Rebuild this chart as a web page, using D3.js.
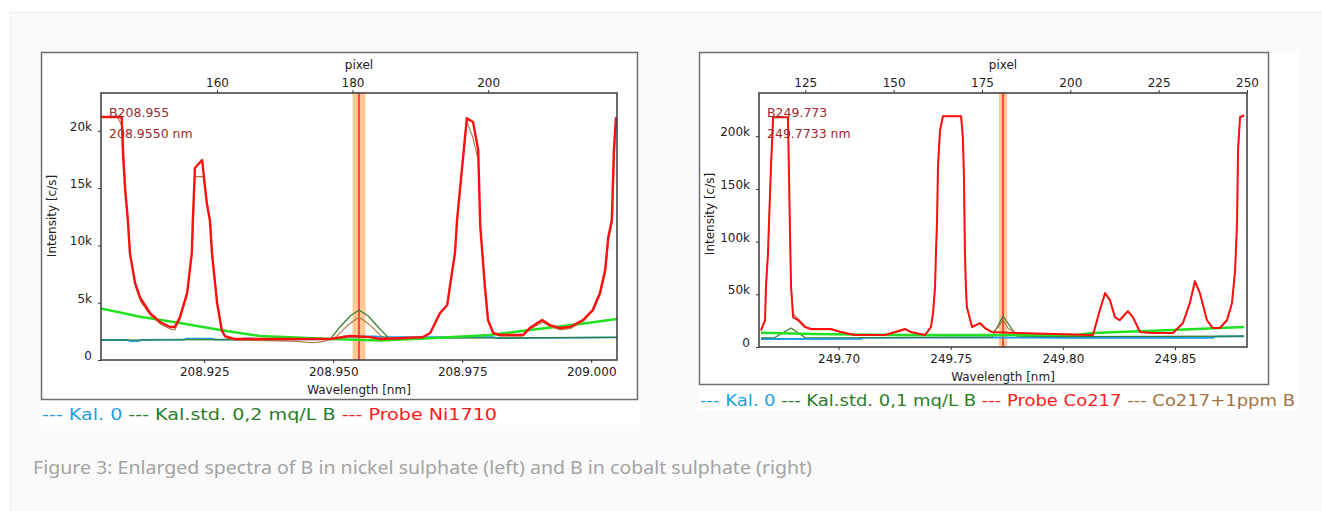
<html>
<head>
<meta charset="utf-8">
<style>
  body { margin: 0; background: #fff; }
  .tick text { font: 12px "DejaVu Sans", sans-serif; fill: #222; }
  .lbl { font: 12px "DejaVu Sans", sans-serif; fill: #222; }
  .note { font: 12.5px "DejaVu Sans", sans-serif; fill: #9e2a2b; }
  .legend { font: 16px "DejaVu Sans", sans-serif; }
</style>
</head>
<body>
<script src="https://cdn.jsdelivr.net/npm/d3@7"></script>
<script>
// ---- left chart: B in nickel sulphate ----
var niProbe = [[208.9050,21200],[208.9090,21200],[208.9093,17700],[208.9097,14800],[208.9102,12200],[208.9106,9340],[208.9116,6720],[208.9126,5410],[208.9145,4100],[208.9164,3320],[208.9184,2880],[208.9193,2880],[208.9203,3750],[208.9217,5850],[208.9226,9340],[208.9228,12200],[208.9232,16760],[208.9246,17450],[208.9255,13700],[208.9261,12200],[208.9265,9340],[208.9275,4970],[208.9284,2620],[208.9290,2090],[208.9310,1830],[208.9494,1830],[208.9533,2090],[208.9571,2000],[208.9591,1830],[208.9674,2000],[208.9688,2360],[208.9707,4100],[208.9721,4800],[208.9726,6370],[208.9736,9340],[208.9740,12200],[208.9759,21100],[208.9771,20770],[208.9781,18330],[208.9785,11700],[208.9794,6370],[208.9800,3490],[208.9810,2360],[208.9823,2180],[208.9868,2180],[208.9881,2790],[208.9905,3490],[208.9920,3050],[208.9940,2790],[208.9959,2880],[208.9984,3490],[209.0003,4360],[209.0017,5850],[209.0027,7850],[209.0033,10700],[209.0040,12200],[209.0044,18300],[209.0048,21200]];
var niSpike = [[208.9050,21200],[208.9082,21200],[208.9092,20300],[208.9095,17000],[208.9098,14500],[208.9103,12000],[208.9107,9100],[208.9117,6400],[208.9127,5100],[208.9146,3900],[208.9165,3150],[208.9184,2700],[208.9193,2620],[208.9203,3500],[208.9217,5700],[208.9226,9200],[208.9229,12000],[208.9232,16000],[208.9248,16000],[208.9256,13500],[208.9262,12000],[208.9266,9200],[208.9276,4800],[208.9285,2500],[208.9292,1950],[208.9310,1750],[208.9420,1650],[208.9460,1500],[208.9480,1600],[208.9505,2000],[208.9530,3100],[208.9550,3750],[208.9570,3100],[208.9595,2000],[208.9620,1800],[208.9674,1950],[208.9688,2300],[208.9707,4000],[208.9721,4800],[208.9726,6300],[208.9736,9200],[208.9740,12000],[208.9759,20800],[208.9770,19500],[208.9781,17500],[208.9785,11500],[208.9795,6200],[208.9801,3400],[208.9811,2300],[208.9823,2100],[208.9868,2100],[208.9882,2700],[208.9906,3300],[208.9921,2900],[208.9940,2650],[208.9960,2750],[208.9985,3400],[209.0004,4300],[209.0018,5800],[209.0028,7800],[209.0034,10600],[209.0041,12100],[209.0045,18000],[209.0048,21000]];
var niStd = [[208.9050,1745],[208.9494,1800],[208.9513,2880],[208.9533,3840],[208.9550,4360],[208.9568,3840],[208.9587,2880],[208.9608,1880],[208.9700,1900],[209.0050,1980]];
var niBlank = [[208.9050,1745],[208.9100,1745],[208.9108,1650],[208.9122,1650],[208.9130,1760],[208.9210,1770],[208.9215,1860],[208.9265,1860],[208.9270,1780],[208.9320,1790],[208.9325,1880],[208.9345,1880],[208.9350,1790],[208.9505,1830],[208.9520,2050],[208.9580,2050],[208.9600,1990],[208.9810,1990],[208.9820,1910],[209.0050,1980]];
var niBackground = [[208.9050,4500],[208.9126,3780],[208.9203,3230],[208.9281,2620],[208.9358,2090],[208.9416,1980],[208.9494,1830],[208.9591,1700],[208.9688,1900],[208.9804,2180],[208.9881,2620],[208.9978,3140],[209.0050,3580]];
var niXTicks = [208.925, 208.950, 208.975, 209.000];
var niPixelTicks = [160, 180, 200];
var niYTicks = [0, 5000, 10000, 15000, 20000];
var niLegend = [["--- Kal. 0 ", "#1ba1e2"], ["--- Kal.std. 0,2 mq/L B ", "#2a7d2a"], ["--- Probe Ni1710", "#ff1a1a"]];

// ---- right chart: B in cobalt sulphate ----
var coProbe = [[249.6654,16100],[249.6672,25600],[249.6676,56900],[249.6685,89100],[249.6690,120400],[249.6699,174400],[249.6708,218000],[249.6774,218000],[249.6779,161100],[249.6783,110900],[249.6788,56900],[249.6797,28400],[249.6819,25600],[249.6850,19000],[249.6877,17100],[249.6966,17100],[249.7011,14200],[249.7073,11400],[249.7207,11400],[249.7251,14200],[249.7296,17100],[249.7323,14200],[249.7385,11400],[249.7412,19000],[249.7421,32200],[249.7430,56900],[249.7434,89100],[249.7439,120400],[249.7443,170600],[249.7452,205600],[249.7465,219000],[249.7546,219000],[249.7554,199000],[249.7559,161100],[249.7563,92000],[249.7568,54000],[249.7572,37900],[249.7595,19000],[249.7630,22700],[249.7653,18000],[249.7684,14200],[249.7795,13300],[249.8134,11400],[249.8165,35100],[249.8188,51200],[249.8210,44500],[249.8232,28400],[249.8254,25600],[249.8290,34100],[249.8312,28400],[249.8344,14200],[249.8402,13300],[249.8491,13300],[249.8535,22700],[249.8566,41700],[249.8589,62500],[249.8611,51200],[249.8642,25600],[249.8669,18000],[249.8700,18000],[249.8732,25600],[249.8754,41700],[249.8768,73000],[249.8777,120400],[249.8781,186700],[249.8790,218000],[249.8808,219900]];
var coSpike = [[249.6654,15000],[249.6672,24500],[249.6676,55000],[249.6685,88000],[249.6690,119000],[249.6699,173000],[249.6708,218000],[249.6774,218000],[249.6779,160000],[249.6783,110000],[249.6788,58000],[249.6797,32000],[249.6819,27000],[249.6850,20000],[249.6877,16500],[249.6966,16500],[249.7011,13800],[249.7073,11000],[249.7207,11000],[249.7251,13500],[249.7296,16500],[249.7323,13800],[249.7385,11000],[249.7412,18500],[249.7421,31500],[249.7430,56000],[249.7434,88500],[249.7439,119500],[249.7443,170000],[249.7452,205000],[249.7465,219000],[249.7546,219000],[249.7554,198000],[249.7559,160000],[249.7563,91000],[249.7568,53000],[249.7572,37000],[249.7595,18500],[249.7630,22000],[249.7653,17500],[249.7684,14000],[249.7710,18000],[249.7733,26000],[249.7756,17500],[249.7795,13000],[249.8134,11000],[249.8165,34500],[249.8188,50500],[249.8210,44000],[249.8232,28000],[249.8254,25000],[249.8290,33500],[249.8312,28000],[249.8344,13800],[249.8402,13000],[249.8491,13000],[249.8535,22000],[249.8566,41000],[249.8589,61500],[249.8611,50500],[249.8642,25000],[249.8669,17500],[249.8700,17500],[249.8732,25000],[249.8754,41000],[249.8768,72500],[249.8777,120000],[249.8781,186000],[249.8790,218000],[249.8808,219900]];
var coStd = [[249.6654,8600],[249.6716,9000],[249.6788,18000],[249.6850,9000],[249.7000,8800],[249.7684,9400],[249.7733,29400],[249.7795,10200],[249.8000,9800],[249.8808,10400]];
var coBlank = [[249.6654,7600],[249.7100,7700],[249.7110,8600],[249.7400,8900],[249.7700,9000],[249.8000,8600],[249.8670,8800],[249.8680,9900],[249.8808,10200]];
var coBackground = [[249.6654,13500],[249.6890,12300],[249.7260,11400],[249.8060,11400],[249.8130,13300],[249.8490,16100],[249.8808,19000]];
var coXTicks = [249.70, 249.75, 249.80, 249.85];
var coPixelTicks = [125, 150, 175, 200, 225, 250];
var coYTicks = [0, 50000, 100000, 150000, 200000];
var coLegend = [["--- Kal. 0 ", "#1ba1e2"], ["--- Kal.std. 0,1 mq/L B ", "#2a7d2a"], ["--- Probe Co217 ", "#ff1a1a"], ["--- Co217+1ppm B", "#a4713f"]];

var caption = "Figure 3: Enlarged spectra of B in nickel sulphate (left) and B in cobalt sulphate (right)";

var svg = d3.select("body").append("svg").attr("width", 1322).attr("height", 511);

// page panel
svg.append("rect").attr("x", 10.5).attr("y", 12.5).attr("width", 1320).attr("height", 505)
   .attr("fill", "#fafafa").attr("stroke", "#efefef");

function drawChart(c) {
  var g = svg.append("g");
  g.append("rect").attr("x", c.bg[0]).attr("y", c.bg[1]).attr("width", c.bg[2]).attr("height", c.bg[3]).attr("fill", "#fff");
  g.append("rect").attr("x", c.frame[0] + 0.5).attr("y", c.frame[1] + 0.5).attr("width", c.frame[2]).attr("height", c.frame[3])
   .attr("fill", "none").attr("stroke", "#6e6e6e").attr("stroke-width", 1.5);

  var x = d3.scaleLinear().domain(c.xDomain).range([c.plot.l, c.plot.r]);
  var px = d3.scaleLinear().domain(c.pxDomain).range([c.plot.l, c.plot.r]);
  var y = d3.scaleLinear().domain(c.yDomain).range([c.plot.b, c.plot.t]);

  var id = "clip" + c.name;
  g.append("clipPath").attr("id", id).append("rect")
   .attr("x", c.plot.l).attr("y", c.plot.t).attr("width", c.plot.r - c.plot.l).attr("height", c.plot.b - c.plot.t);

  var plot = g.append("g").attr("clip-path", "url(#" + id + ")");
  // measuring window
  plot.append("rect").attr("x", x(c.line - c.half)).attr("y", c.plot.t)
      .attr("width", x(c.line + c.half) - x(c.line - c.half)).attr("height", c.plot.b - c.plot.t)
      .attr("fill", "#ffc896");
  plot.append("line").attr("x1", x(c.line)).attr("x2", x(c.line)).attr("y1", c.plot.t).attr("y2", c.plot.b)
      .attr("stroke", "#ff2a2a").attr("stroke-width", 1.6);

  var line = d3.line().x(d => x(d[0])).y(d => y(d[1]));
  c.series.forEach(function (s) {
    plot.append("path").datum(s.data).attr("d", line)
        .attr("fill", "none").attr("stroke", s.color).attr("stroke-width", s.w)
        .attr("stroke-linejoin", "round");
  });

  var fmtY = v => v === 0 ? "0" : (v / 1000) + "k";
  var ax = g.append("g").attr("transform", "translate(0," + c.plot.b + ")")
            .call(d3.axisBottom(x).tickValues(c.xTicks).tickFormat(d3.format(c.xFmt)).tickSize(3).tickPadding(4));
  var at = g.append("g").attr("transform", "translate(0," + c.plot.t + ")")
            .call(d3.axisTop(px).tickValues(c.pxTicks).tickSize(3).tickPadding(3));
  var ay = g.append("g").attr("transform", "translate(" + c.plot.l + ",0)")
            .call(d3.axisLeft(y).tickValues(c.yTicks).tickFormat(fmtY).tickSize(3).tickPadding(6));
  [ax, at, ay].forEach(a => { a.select(".domain").remove(); a.selectAll("line").attr("stroke", "#333"); a.attr("font-family", null).attr("font-size", null); });
  ay.selectAll("text").attr("dy", "-0.05em");

  g.append("rect").attr("x", c.plot.l).attr("y", c.plot.t).attr("width", c.plot.r - c.plot.l).attr("height", c.plot.b - c.plot.t)
   .attr("fill", "none").attr("stroke", "#3a3a3a").attr("stroke-width", 1.5);

  g.append("text").attr("class", "lbl").attr("x", x(c.line)).attr("y", 69).attr("text-anchor", "middle").text("pixel");
  g.append("text").attr("class", "lbl").attr("x", (c.plot.l + c.plot.r) / 2).attr("y", c.wlY).attr("text-anchor", "middle").text("Wavelength [nm]");
  g.append("text").attr("class", "lbl").attr("transform", "translate(" + c.ylX + "," + c.ylY + ") rotate(-90)")
   .attr("text-anchor", "middle").text("Intensity [c/s]");

  g.append("text").attr("class", "note").attr("x", c.plot.l + 8).attr("y", 117).text(c.note1);
  g.append("text").attr("class", "note").attr("x", c.plot.l + 8).attr("y", 138).text(c.note2);

  var lg = g.append("text").attr("class", "legend").attr("x", c.legend[0]).attr("y", c.legend[1])
            .attr("textLength", c.legend[2]).attr("lengthAdjust", "spacingAndGlyphs");
  c.legendItems.forEach(it => lg.append("tspan").attr("fill", it[1]).attr("xml:space", "preserve").text(it[0]));
}

drawChart({
  name: "ni", bg: [40, 52, 600, 373], frame: [41, 52, 596, 347],
  plot: { l: 101, t: 93, r: 617, b: 360 },
  xDomain: [208.905, 209.005], pxDomain: [142.9, 219.0], yDomain: [0, 23300],
  xTicks: niXTicks, xFmt: ".3f", pxTicks: niPixelTicks, yTicks: niYTicks,
  line: 208.955, half: 0.00125,
  series: [
    { data: niBlank, color: "#1e9be0", w: 1.8 },
    { data: niStd, color: "#2f7d32", w: 1.2 },
    { data: niBackground, color: "#22e022", w: 2.6 },
    { data: niSpike, color: "#a87a3c", w: 1.1 },
    { data: niProbe, color: "#ff1010", w: 2.4 }
  ],
  wlY: 394, ylX: 56, ylY: 216,
  note1: "B208.955", note2: "208.9550 nm",
  legend: [42, 420, 455], legendItems: niLegend
});

drawChart({
  name: "co", bg: [698, 52, 600, 358], frame: [699, 52, 569, 332],
  plot: { l: 759, t: 93, r: 1247, b: 347 },
  xDomain: [249.6645, 249.8821], pxDomain: [111.9, 250], yDomain: [0, 241000],
  xTicks: coXTicks, xFmt: ".2f", pxTicks: coPixelTicks, yTicks: coYTicks,
  line: 249.7733, half: 0.0018,
  series: [
    { data: coBlank, color: "#1e9be0", w: 1.8 },
    { data: coStd, color: "#2f7d32", w: 1.2 },
    { data: coBackground, color: "#22e022", w: 2.6 },
    { data: coSpike, color: "#a87a3c", w: 1.1 },
    { data: coProbe, color: "#ff1010", w: 2 }
  ],
  wlY: 381, ylX: 714, ylY: 214,
  note1: "B249.773", note2: "249.7733 nm",
  legend: [700, 406, 595], legendItems: coLegend
});

svg.append("text").attr("x", 33).attr("y", 474)
   .attr("font-family", "Noto Sans, sans-serif").attr("font-size", 18).attr("fill", "#a3a3a3")
   .attr("textLength", 779).attr("lengthAdjust", "spacingAndGlyphs")
   .text(caption);
</script>
</body>
</html>
